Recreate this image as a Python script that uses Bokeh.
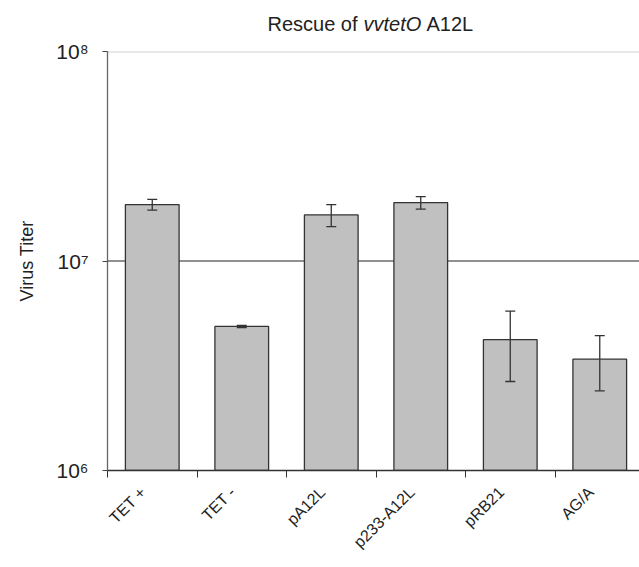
import math
from bokeh.plotting import figure
from bokeh.layouts import column
from bokeh.models import (Range1d, FixedTicker, Span, Whisker, TeeHead,
                          ColumnDataSource, Label)
from bokeh.embed import file_html
from bokeh.resources import INLINE

# ---- data ----
categories = ["TET +", "TET -", "pA12L", "p233-A12L", "pRB21", "AG/A"]
titer = [1.86e7, 4.87e6, 1.66e7, 1.90e7, 4.21e6, 3.40e6]
titer_err = [1.1e6, 0.06e6, 2.0e6, 1.3e6, 1.55e6, 1.0e6]
y_ticks = [1e6, 1e7, 1e8]
y_tick_labels = ["10\u2076", "10\u2077", "10\u2078"]
title_parts = ["Rescue of", "vvtetO", "A12L"]
y_label = "Virus Titer"

FONT = "Liberation Sans"
TXT = "#222222"
W = 639
TITLE_H = 38

x = [i + 0.5 for i in range(len(categories))]
upper = [v + e for v, e in zip(titer, titer_err)]
lower = [v - e for v, e in zip(titer, titer_err)]
src = ColumnDataSource(dict(x=x, titer=titer, upper=upper, lower=lower))

xr = Range1d(0, 5.944)

# ---- title strip ----
tf = figure(width=W, height=TITLE_H, output_backend="svg", toolbar_location=None,
            x_range=xr, y_range=Range1d(0, 1),
            min_border_left=107, min_border_right=0, min_border_top=0,
            min_border_bottom=0)
tf.axis.visible = False
tf.grid.visible = False
tf.outline_line_color = None
offsets = [160, 256, 319]
styles = ["normal", "italic", "normal"]
for part, off, st in zip(title_parts, offsets, styles):
    tf.add_layout(Label(x=0, y=1 - 23 / TITLE_H, x_offset=off, text=part,
                        text_font=FONT, text_font_size="20px", text_font_style=st,
                        text_align="left", text_baseline="middle",
                        text_color=TXT))

# ---- main plot ----
p = figure(width=W, height=567 - TITLE_H, output_backend="svg", toolbar_location=None,
           x_range=xr, y_range=Range1d(y_ticks[0], y_ticks[-1]),
           y_axis_type="log",
           min_border_left=107, min_border_right=0, min_border_top=51 - TITLE_H,
           min_border_bottom=97)
p.outline_line_color = None
p.xgrid.visible = False
p.ygrid.visible = False

# gridlines (behind bars)
p.add_layout(Span(location=y_ticks[1], dimension="width", line_color="#222222",
                  line_width=1.2, level="underlay"))
p.add_layout(Span(location=y_ticks[2], dimension="width", line_color="#cfcfcf",
                  line_width=2, level="underlay"))

p.vbar(x="x", top="titer", bottom=y_ticks[0], width=0.6, source=src,
       fill_color="#c0c0c0", line_color="#333333", line_width=1.3)

p.add_layout(Whisker(base="x", upper="upper", lower="lower", source=src,
                     level="overlay",
                     line_color="#333333", line_width=1.3,
                     upper_head=TeeHead(size=10, line_color="#333333", line_width=1.3),
                     lower_head=TeeHead(size=10, line_color="#333333", line_width=1.3)))

# y axis
ya = p.yaxis[0]
ya.ticker = FixedTicker(ticks=y_ticks, minor_ticks=[])
ya.major_label_overrides = {t: l for t, l in zip(y_ticks, y_tick_labels)}
ya.major_label_text_font = FONT
ya.major_label_text_font_size = "21px"
ya.major_label_text_color = TXT
ya.major_label_standoff = 14
ya.major_tick_out = 5
ya.major_tick_in = 0
ya.major_tick_line_color = "#444444"
ya.axis_line_color = "#666666"
ya.axis_line_width = 1.3
ya.axis_label = y_label
ya.axis_label_text_font = FONT
ya.axis_label_text_font_size = "18px"
ya.axis_label_text_font_style = "normal"
ya.axis_label_text_color = TXT
ya.axis_label_standoff = 16

# x axis (labels placed a little left of bar centres, as in the source)
label_pos = [xi - 0.1 for xi in x]
xa = p.xaxis[0]
xa.ticker = FixedTicker(ticks=label_pos, minor_ticks=list(range(len(categories) + 1)))
xa.major_label_overrides = {xi: c for xi, c in zip(label_pos, categories)}
xa.major_label_orientation = math.pi / 4
xa.major_label_text_font = FONT
xa.major_label_text_font_size = "16px"
xa.major_label_text_color = TXT
xa.major_label_standoff = 12
xa.major_tick_out = 0
xa.major_tick_in = 0
xa.minor_tick_out = 7
xa.minor_tick_in = 0
xa.minor_tick_line_color = "#333333"
xa.axis_line_color = "#333333"
xa.axis_line_width = 1.3

layout = column(tf, p, spacing=0)
open("out.html", "w").write(file_html(layout, INLINE))
